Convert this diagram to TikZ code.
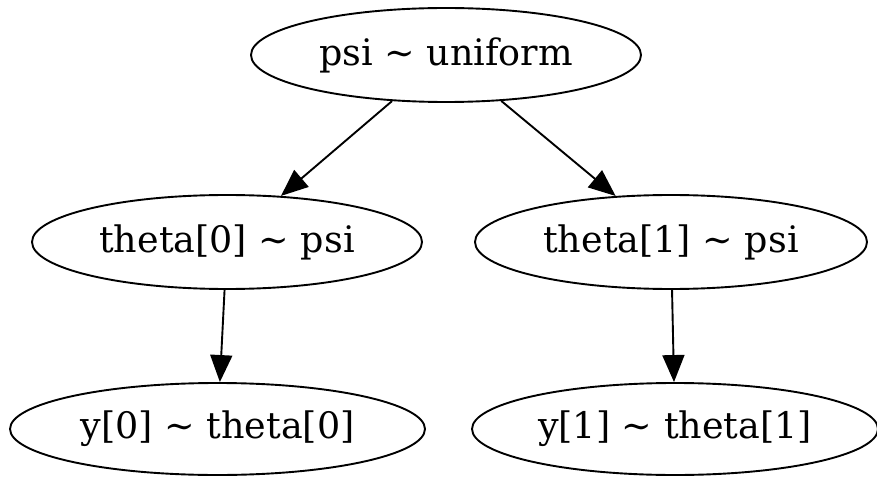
\documentclass[tikz,border=0pt]{standalone}
\usepackage{fontspec}
\setmainfont{DejaVu Serif}
\usepackage{tikz}
\usetikzlibrary{shapes.geometric, arrows.meta}

\begin{document}
\begin{tikzpicture}[x=1pt, y=1pt,
    var/.style={draw, ellipse, line width=1.9pt, inner sep=0pt,
        font=\fontsize{36.5}{44}\selectfont},
    edge/.style={line width=1.9pt, -{Triangle[length=27pt, width=22pt]}}]
    \useasboundingbox (0,0) rectangle (877,477);
    % Hyperprior
    \node[var, minimum width=390pt, minimum height=94pt] (psi) at (446,422) {psi \textasciitilde{} uniform};

    % Group parameters
    \node[var, minimum width=390pt, minimum height=94pt] (theta0) at (227,235) {theta[0] \textasciitilde{} psi};
    \node[var, minimum width=392pt, minimum height=94pt] (theta1) at (671,235) {theta[1] \textasciitilde{} psi};

    % Observations
    \node[var, minimum width=415pt, minimum height=92pt] (y0) at (217.5,48) {y[0] \textasciitilde{} theta[0]};
    \node[var, minimum width=406pt, minimum height=92pt] (y1) at (675,48) {y[1] \textasciitilde{} theta[1]};

    % Arrows
    \draw[edge] (psi) -- (theta0);
    \draw[edge] (psi) -- (theta1);
    \draw[edge] (theta0) -- (y0);
    \draw[edge] (theta1) -- (y1);
\end{tikzpicture}
\end{document}
